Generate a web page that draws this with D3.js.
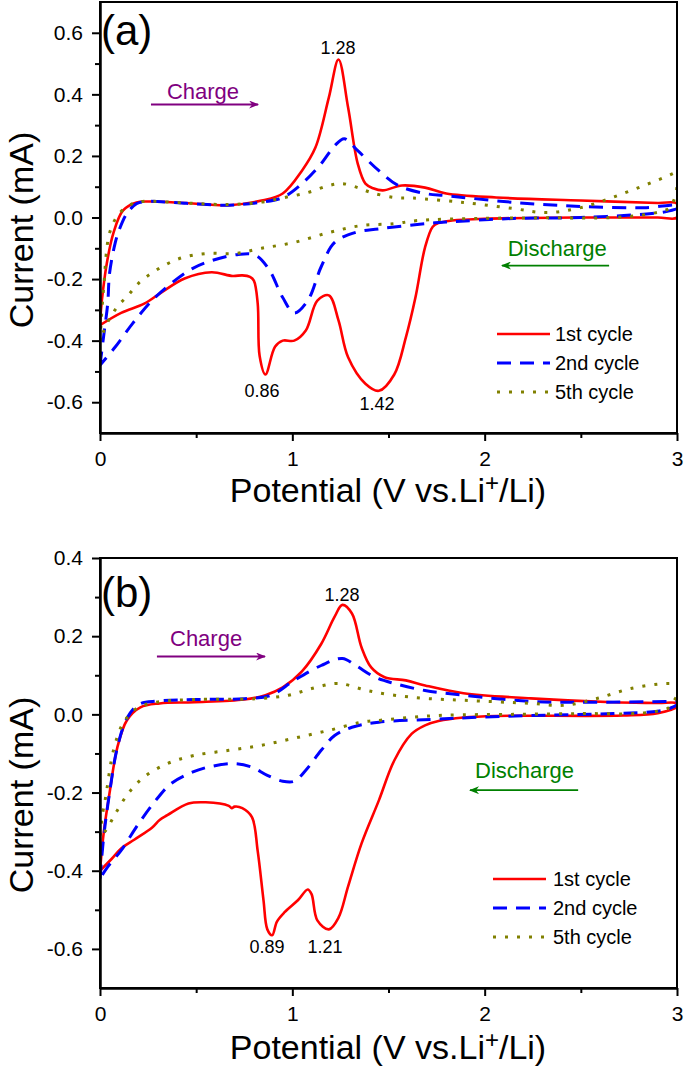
<!DOCTYPE html>
<html><head><meta charset="utf-8">
<script src="https://cdn.jsdelivr.net/npm/d3@7"></script>
<style>body{margin:0;background:#fff}svg{display:block;font-family:Arial,"Liberation Sans",sans-serif}</style>
</head><body><svg id="c" width="685" height="1074"></svg>
<script>
// ---------- data ----------
const xTicks = [0, 1, 2, 3];
const xMinorTicks = [0.5, 1.5, 2.5];
const xTickLabels = ["0", "1", "2", "3"];

const yTicksA = [-0.6, -0.4, -0.2, 0.0, 0.2, 0.4, 0.6];
const yMinorA = [-0.5, -0.3, -0.1, 0.1, 0.3, 0.5];
const yTickLabelsA = ["-0.6", "-0.4", "-0.2", "0.0", "0.2", "0.4", "0.6"];

const yTicksB = [-0.6, -0.4, -0.2, 0.0, 0.2, 0.4];
const yMinorB = [-0.5, -0.3, -0.1, 0.1, 0.3];
const yTickLabelsB = ["-0.6", "-0.4", "-0.2", "0.0", "0.2", "0.4"];

const seriesNames = ["1st cycle", "2nd cycle", "5th cycle"];

// Panel (a): [potential V, current mA], anodic sweep 0->3 then cathodic 3->0
const a1st = [[0,-0.35],[0.005,-0.30],[0.015,-0.24],[0.035,-0.15],[0.07,-0.05],[0.12,0.023],[0.19,0.049],[0.26,0.052],[0.45,0.047],[0.67,0.040],[0.84,0.055],[0.95,0.078],[1.05,0.152],[1.12,0.227],[1.19,0.39],[1.24,0.513],[1.29,0.357],[1.34,0.175],[1.38,0.11],[1.42,0.095],[1.47,0.088],[1.57,0.104],[1.69,0.097],[1.80,0.078],[2.06,0.065],[2.5,0.055],[2.9,0.047],[3.0,0.045],
  [3.0,0.0],[2.9,0.0],[2.5,0.0],[2.0,-0.004],[1.83,-0.01],[1.76,-0.018],[1.73,-0.03],[1.69,-0.097],[1.64,-0.26],[1.59,-0.39],[1.53,-0.51],[1.45,-0.563],[1.38,-0.54],[1.29,-0.454],[1.24,-0.334],[1.19,-0.253],[1.13,-0.27],[1.07,-0.367],[1.01,-0.40],[0.95,-0.40],[0.91,-0.42],[0.86,-0.51],[0.83,-0.45],[0.82,-0.28],[0.80,-0.205],[0.78,-0.193],[0.74,-0.188],[0.69,-0.19],[0.58,-0.178],[0.44,-0.198],[0.32,-0.243],[0.23,-0.28],[0.11,-0.31],[0,-0.35]];
const a2nd = [[0,-0.48],[0.02,-0.38],[0.04,-0.28],[0.05,-0.18],[0.08,-0.08],[0.10,-0.04],[0.14,0.013],[0.19,0.045],[0.24,0.052],[0.45,0.046],[0.67,0.040],[0.84,0.050],[0.95,0.065],[1.05,0.11],[1.15,0.175],[1.22,0.233],[1.27,0.256],[1.34,0.217],[1.45,0.152],[1.55,0.104],[1.69,0.078],[1.80,0.071],[2.15,0.049],[2.5,0.036],[2.84,0.032],[3.0,0.039],
  [3.0,0.03],[2.95,0.02],[2.87,0.013],[2.5,0.0],[2.15,-0.003],[1.80,-0.015],[1.69,-0.02],[1.45,-0.037],[1.33,-0.048],[1.22,-0.081],[1.15,-0.16],[1.08,-0.27],[1.01,-0.31],[0.95,-0.26],[0.88,-0.17],[0.81,-0.123],[0.72,-0.12],[0.58,-0.14],[0.48,-0.166],[0.37,-0.214],[0.27,-0.27],[0.17,-0.344],[0.08,-0.42],[0,-0.48]];
const a5th = [[0,-0.40],[0.01,-0.30],[0.02,-0.22],[0.05,-0.05],[0.10,0.013],[0.17,0.045],[0.22,0.052],[0.45,0.047],[0.67,0.042],[0.84,0.050],[0.96,0.065],[1.08,0.081],[1.19,0.104],[1.26,0.11],[1.34,0.097],[1.41,0.081],[1.53,0.065],[1.63,0.063],[1.89,0.049],[2.15,0.029],[2.32,0.016],[2.5,0.032],[2.72,0.078],[2.98,0.143],[3.0,0.15],
  [3.0,0.10],[2.98,0.05],[2.96,0.03],[2.87,0.013],[2.67,0.0],[2.32,-0.001],[1.98,-0.003],[1.65,-0.01],[1.53,-0.02],[1.36,-0.026],[1.19,-0.049],[1.01,-0.081],[0.84,-0.10],[0.70,-0.117],[0.55,-0.117],[0.41,-0.134],[0.29,-0.172],[0.20,-0.214],[0.15,-0.25],[0.09,-0.29],[0.04,-0.34],[0,-0.40]];

// Panel (b)
const b1st = [[0,-0.40],[0.02,-0.30],[0.05,-0.2],[0.09,-0.085],[0.14,-0.015],[0.21,0.018],[0.31,0.028],[0.49,0.031],[0.75,0.038],[0.86,0.049],[0.95,0.069],[1.05,0.11],[1.15,0.18],[1.22,0.25],[1.26,0.28],[1.31,0.258],[1.36,0.171],[1.41,0.12],[1.48,0.095],[1.59,0.087],[1.69,0.074],[1.89,0.054],[2.24,0.041],[2.67,0.031],[2.9,0.029],[3.0,0.028],
  [3.0,0.02],[2.9,0.003],[2.72,-0.003],[2.06,-0.004],[1.89,-0.008],[1.76,-0.017],[1.69,-0.028],[1.62,-0.05],[1.53,-0.118],[1.45,-0.22],[1.36,-0.33],[1.29,-0.44],[1.24,-0.52],[1.19,-0.55],[1.13,-0.527],[1.10,-0.46],[1.08,-0.448],[1.03,-0.475],[0.96,-0.506],[0.92,-0.53],[0.895,-0.565],[0.87,-0.55],[0.85,-0.475],[0.82,-0.35],[0.79,-0.263],[0.74,-0.24],[0.70,-0.236],[0.685,-0.24],[0.67,-0.234],[0.55,-0.225],[0.46,-0.228],[0.35,-0.258],[0.31,-0.27],[0.27,-0.29],[0.18,-0.32],[0.11,-0.343],[0.06,-0.37],[0,-0.40]];
const b2nd = [[0,-0.42],[0.02,-0.31],[0.05,-0.2],[0.09,-0.085],[0.14,-0.01],[0.2,0.025],[0.3,0.034],[0.49,0.038],[0.75,0.04],[0.89,0.049],[1.01,0.087],[1.15,0.125],[1.26,0.143],[1.33,0.125],[1.43,0.095],[1.53,0.079],[1.69,0.061],[1.89,0.049],[2.24,0.033],[2.58,0.031],[2.98,0.033],[3.0,0.033],
  [3.0,0.025],[2.96,0.015],[2.9,0.008],[2.67,0.002],[2.32,-0.002],[1.98,-0.007],[1.72,-0.013],[1.45,-0.02],[1.31,-0.033],[1.22,-0.054],[1.15,-0.092],[1.07,-0.143],[1.01,-0.171],[0.95,-0.171],[0.87,-0.156],[0.79,-0.135],[0.70,-0.126],[0.58,-0.133],[0.48,-0.148],[0.37,-0.177],[0.29,-0.22],[0.20,-0.28],[0.11,-0.348],[0.04,-0.39],[0,-0.42]];
const b5th = [[0,-0.31],[0.015,-0.25],[0.03,-0.21],[0.07,-0.092],[0.12,-0.023],[0.19,0.015],[0.29,0.031],[0.49,0.038],[0.81,0.04],[0.98,0.049],[1.10,0.066],[1.22,0.079],[1.27,0.077],[1.39,0.061],[1.53,0.049],[1.69,0.041],[1.89,0.036],[2.24,0.028],[2.41,0.023],[2.58,0.04],[2.76,0.066],[2.95,0.079],[3.0,0.075],
  [3.0,0.05],[2.97,0.025],[2.95,0.015],[2.81,0.003],[2.5,0.002],[2.15,0.0],[1.80,-0.002],[1.63,-0.007],[1.46,-0.015],[1.36,-0.02],[1.19,-0.041],[1.01,-0.061],[0.84,-0.079],[0.67,-0.092],[0.49,-0.105],[0.35,-0.126],[0.23,-0.16],[0.15,-0.2],[0.08,-0.254],[0.03,-0.297],[0,-0.31]];

// peak annotations [V, I(baseline), text]
const peaksA = [[1.238, 0.532, "1.28"], [0.842, -0.584, "0.86"], [1.44, -0.626, "1.42"]];
const peaksB = [[1.258, 0.289, "1.28"], [0.868, -0.611, "0.89"], [1.17, -0.611, "1.21"]];

// ---------- drawing ----------
const svg = d3.select("#c");
const colors = ["#ff0000", "#0000ff", "#808000"];
const dashes = [null, "14,9", "3,9"];
const widths = [2.6, 3, 3];

const defs = svg.append("defs");
[["arP", "#800080"], ["arG", "#008000"]].forEach(([id, c]) => {
  defs.append("marker").attr("id", id).attr("viewBox", "0 0 10 8").attr("refX", 9).attr("refY", 4)
    .attr("markerWidth", 10).attr("markerHeight", 8).attr("markerUnits", "userSpaceOnUse").attr("orient", "auto")
    .append("path").attr("d", "M0,0 L10,4 L0,8 L3,4 Z").attr("fill", c);
});

function panel(cfg) {
  const left = 100, right = 677;
  const x = d3.scaleLinear().domain([0, 3]).range([left, right]);
  const y = d3.scaleLinear().domain(cfg.yDomain).range([cfg.bottom, cfg.top]);
  const g = svg.append("g");

  defs.append("clipPath").attr("id", cfg.clipId).append("rect")
    .attr("x", left).attr("y", cfg.top).attr("width", right - left + 1).attr("height", cfg.bottom - cfg.top);

  // series
  const line = d3.line().x(d => x(d[0])).y(d => y(d[1])).curve(d3.curveCatmullRom.alpha(0.5));
  const sg = g.append("g").attr("clip-path", `url(#${cfg.clipId})`);
  cfg.series.forEach((s, i) => {
    sg.append("path").attr("d", line(s)).attr("fill", "none")
      .attr("stroke", colors[i]).attr("stroke-width", widths[i])
      .attr("stroke-dasharray", dashes[i]).attr("stroke-linejoin", "round");
  });

  // frame
  g.append("rect").attr("x", left).attr("y", cfg.top).attr("width", right - left).attr("height", cfg.bottom - cfg.top)
    .attr("fill", "none").attr("stroke", "#000").attr("stroke-width", 2);

  // axes
  const xa = g.append("g").attr("transform", `translate(0,${cfg.bottom})`)
    .call(d3.axisBottom(x).tickValues(xTicks).tickFormat((d, i) => xTickLabels[i]).tickSize(8).tickSizeOuter(0).tickPadding(10));
  const xm = g.append("g").attr("transform", `translate(0,${cfg.bottom})`)
    .call(d3.axisBottom(x).tickValues(xMinorTicks).tickFormat("").tickSize(5).tickSizeOuter(0));
  const ya = g.append("g").attr("transform", `translate(${left},0)`)
    .call(d3.axisLeft(y).tickValues(cfg.yTicks).tickFormat((d, i) => cfg.yLabels[i]).tickSize(8).tickSizeOuter(0).tickPadding(9));
  const ym = g.append("g").attr("transform", `translate(${left},0)`)
    .call(d3.axisLeft(y).tickValues(cfg.yMinor).tickFormat("").tickSize(5).tickSizeOuter(0));
  [xa, xm, ya, ym].forEach(a => {
    a.select(".domain").attr("stroke-width", 2);
    a.selectAll(".tick line").attr("stroke-width", 2);
    a.selectAll("text").attr("font-size", 21).attr("font-family", "Arial, 'Liberation Sans', sans-serif").attr("fill", "#000");
  });

  // axis titles
  g.append("text").attr("transform", `translate(33,${cfg.yTitleY}) rotate(-90)`).attr("text-anchor", "middle")
    .attr("font-size", 34).text("Current (mA)");
  const xt = g.append("text").attr("x", 388).attr("y", cfg.xTitleY).attr("text-anchor", "middle").attr("font-size", 34);
  xt.append("tspan").text("Potential (V vs.Li");
  xt.append("tspan").attr("font-size", 24).attr("dy", -11).text("+");
  xt.append("tspan").attr("dy", 11).text("/Li)");

  // panel label
  g.append("text").attr("x", 101).attr("y", cfg.labelY).attr("font-size", 42).text(cfg.label);

  // Charge / Discharge
  g.append("text").attr("x", x(cfg.charge[0])).attr("y", y(cfg.charge[1])).attr("font-size", 22).attr("fill", "#800080").text("Charge");
  g.append("line").attr("x1", x(cfg.chargeArrow[0])).attr("x2", x(cfg.chargeArrow[1]))
    .attr("y1", y(cfg.chargeArrow[2])).attr("y2", y(cfg.chargeArrow[2]))
    .attr("stroke", "#800080").attr("stroke-width", 1.8).attr("marker-end", "url(#arP)");
  g.append("text").attr("x", x(cfg.discharge[0])).attr("y", y(cfg.discharge[1])).attr("font-size", 22).attr("fill", "#008000").text("Discharge");
  g.append("line").attr("x1", x(cfg.dischargeArrow[1])).attr("x2", x(cfg.dischargeArrow[0]))
    .attr("y1", y(cfg.dischargeArrow[2])).attr("y2", y(cfg.dischargeArrow[2]))
    .attr("stroke", "#008000").attr("stroke-width", 1.8).attr("marker-end", "url(#arG)");

  // peak labels
  cfg.peaks.forEach(p => {
    g.append("text").attr("x", x(p[0])).attr("y", y(p[1])).attr("text-anchor", "middle").attr("font-size", 18).text(p[2]);
  });

  // legend
  seriesNames.forEach((n, i) => {
    const ly = cfg.legend[2] + i * 29;
    g.append("line").attr("x1", cfg.legend[0]).attr("x2", cfg.legend[0] + 53).attr("y1", ly).attr("y2", ly)
      .attr("stroke", colors[i]).attr("stroke-width", widths[i]).attr("stroke-dasharray", dashes[i]);
    g.append("text").attr("x", cfg.legend[1]).attr("y", ly).attr("dy", "0.36em").attr("font-size", 20).text(n);
  });
}

panel({
  yDomain: [-0.7, 0.7], top: 2, bottom: 433, clipId: "clipA",
  yTicks: yTicksA, yMinor: yMinorA, yLabels: yTickLabelsA,
  series: [a1st, a2nd, a5th], peaks: peaksA,
  yTitleY: 230, xTitleY: 502, label: "(a)", labelY: 45,
  charge: [0.348, 0.386], chargeArrow: [0.265, 0.822, 0.367],
  discharge: [2.12, -0.126], dischargeArrow: [2.09, 2.647, -0.156],
  legend: [497, 555, 334]
});
panel({
  yDomain: [-0.7, 0.4], top: 558, bottom: 988, clipId: "clipB",
  yTicks: yTicksB, yMinor: yMinorB, yLabels: yTickLabelsB,
  series: [b1st, b2nd, b5th], peaks: peaksB,
  yTitleY: 795, xTitleY: 1059, label: "(b)", labelY: 607,
  charge: [0.364, 0.176], chargeArrow: [0.296, 0.858, 0.148],
  discharge: [1.95, -0.164], dischargeArrow: [1.924, 2.486, -0.194],
  legend: [493, 553, 879]
});
</script></body></html>
